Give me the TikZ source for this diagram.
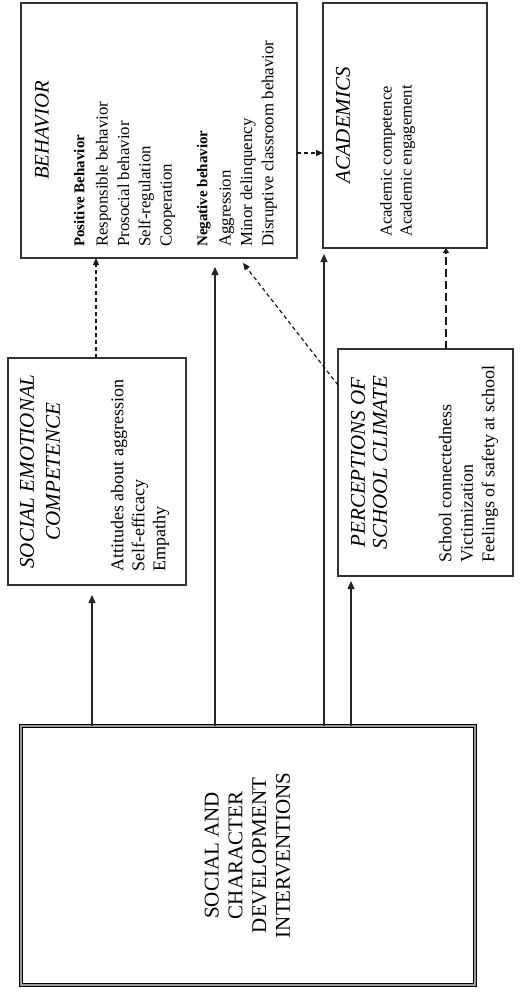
\documentclass[tikz,border=0pt]{standalone}
\usepackage{fontspec}
\setmainfont{Liberation Serif}
\usetikzlibrary{arrows.meta,calc}
\begin{document}
\begin{tikzpicture}[x=1pt,y=-1pt,
  box/.style={draw=black!80, line width=1.3pt, inner sep=0pt, outer sep=0pt, anchor=north west},
  dbox/.style={draw=black, line width=1pt, double=black!40, double distance=2pt, inner sep=0pt, outer sep=0pt, anchor=north west},
  title/.style={rotate=90, inner sep=0pt, anchor=center},
  list/.style={rotate=90, inner sep=0pt, align=left, anchor=north west},
  solidarr/.style={draw=black!85, line width=1.3pt, -{Triangle[length=8pt,width=7pt]}},
  dasharr/.style={draw=black!90, line width=1.2pt, dash pattern=on 4pt off 3pt, -{Triangle[length=7pt,width=6pt]}},
  longdasharr/.style={draw=black!90, line width=1.2pt, dash pattern=on 8pt off 4pt, -{Triangle[length=5pt,width=6pt]}}
]
\useasboundingbox (0,0) rectangle (520,992);
% boxes
\node[box, minimum width=276pt, minimum height=255pt] (beh) at (21,3) {};
\node[box, minimum width=164pt, minimum height=245pt] (aca) at (323,3) {};
\node[box, minimum width=178pt, minimum height=227pt] (sec) at (8,358) {};
\node[box, minimum width=175pt, minimum height=227pt] (psc) at (338,349) {};
\node[dbox, minimum width=453.5pt, minimum height=258.5pt] (inter) at (21,726) {};
% texts
\node[title, font=\fontsize{20.7}{24}\selectfont\itshape] (behT) at (42,130.5) {BEHAVIOR};
\node[list, font=\fontsize{16.8}{21.3}\selectfont] (behL) at (73.8,247)
  {{\fontsize{15}{21.3}\selectfont\bfseries Positive Behavior}\\[2pt]
   Responsible behavior\\ Prosocial behavior\\ Self-regulation\\ Cooperation\\[14.5pt]
   {\fontsize{15}{21.3}\selectfont\bfseries Negative behavior}\\[2pt]
   Aggression\\ Minor delinquency\\ Disruptive classroom behavior};
\node[title, font=\fontsize{21}{25}\selectfont\itshape] (acaT) at (343,125.5) {ACADEMICS};
\node[list, font=\fontsize{16.6}{20}\selectfont] (acaL) at (380,237) {Academic competence\\ Academic engagement};
\node[title, align=center, font=\fontsize{21}{26}\selectfont\itshape] (secT) at (40,471.5) {SOCIAL EMOTIONAL\\ COMPETENCE};
\node[list, font=\fontsize{18}{21}\selectfont] (secL) at (110.7,572) {Attitudes about aggression\\ Self-efficacy\\ Empathy};
\node[title, align=center, font=\fontsize{21}{22}\selectfont\itshape] (pscT) at (369,462.5) {PERCEPTIONS OF\\ SCHOOL CLIMATE};
\node[list, font=\fontsize{18}{21.5}\selectfont] (pscL) at (438.7,563) {School connectedness\\ Victimization\\ Feelings of safety at school};
\node[title, align=center, font=\fontsize{21}{23.7}\selectfont] (interT) at (247.5,855.5) {SOCIAL AND\\ CHARACTER\\ DEVELOPMENT\\ INTERVENTIONS};
% connector positions
\coordinate (xA) at (92,0);
\coordinate (xB) at (215,0);
\coordinate (xC) at (324,0);
\coordinate (xD) at (351,0);
\coordinate (xE) at (96,0);
\coordinate (xF) at (446,0);
\coordinate (yH) at (0,153);
% solid arrows from interventions
\draw[solidarr, shorten >=10pt] (inter.north -| xA) -- (sec.south -| xA);
\draw[solidarr, shorten >=9pt] (inter.north -| xB) -- (beh.south -| xB);
\draw[solidarr, shorten >=6pt] (inter.north -| xC) -- (aca.south -| xC);
\draw[solidarr, shorten >=5pt] (inter.north -| xD) -- (psc.south -| xD);
% dashed arrows
\draw[dasharr] (sec.north -| xE) -- (beh.south -| xE);
\draw[longdasharr] (psc.north -| xF) -- (aca.south -| xF);
\draw[dasharr] ([yshift=-36pt]psc.north west) -- ([xshift=-54pt,yshift=-5pt]beh.south east);
\draw[dasharr] (beh.east |- yH) -- (aca.west |- yH);
\end{tikzpicture}
\end{document}
